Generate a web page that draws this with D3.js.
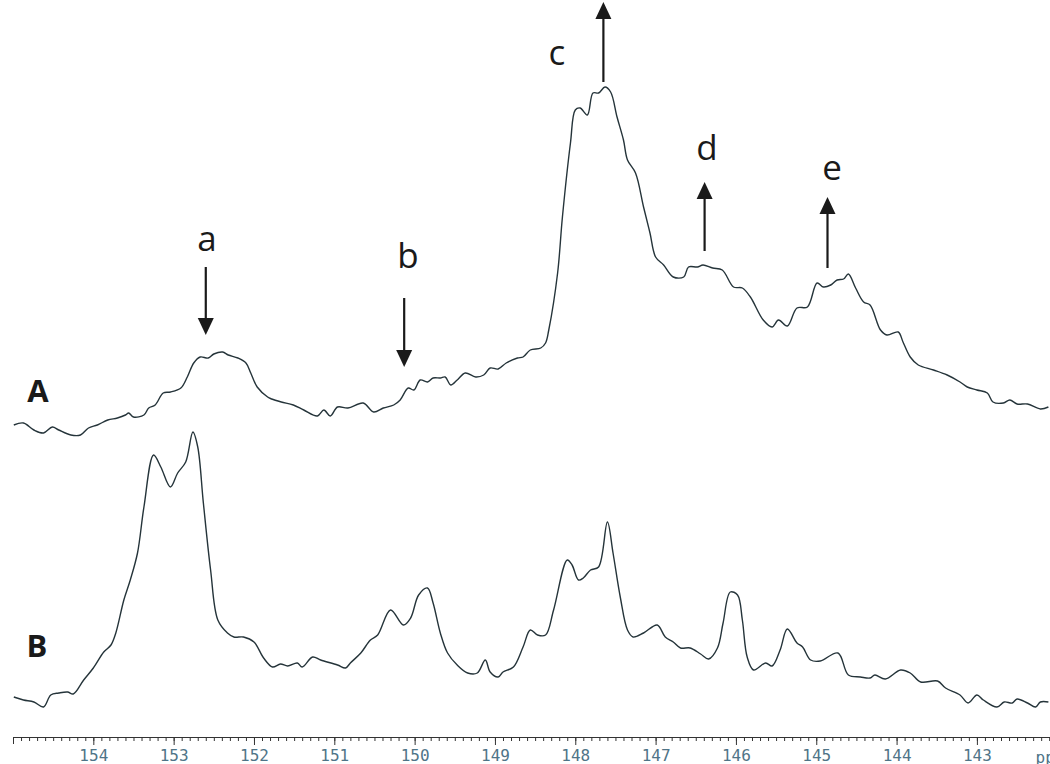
<!DOCTYPE html>
<html>
<head>
<meta charset="utf-8">
<script src="https://cdn.jsdelivr.net/npm/d3@7"></script>
<style>
  html, body { margin: 0; padding: 0; background: #fff; }
  svg { display: block; }
  .trace { fill: none; stroke: #25343a; stroke-width: 1.4; }
  .peak-label { font-family: "Open Sans", sans-serif; font-size: 35px; fill: #1a1a1a; }
  .trace-label { font-family: "Open Sans", sans-serif; font-size: 31px; font-weight: 700; fill: #1a1a1a; }
  .axis path, .axis line { stroke: #333; }
  .axis text { font-family: "DejaVu Sans Mono", monospace; font-size: 16px; fill: #4f7487; }
</style>
</head>
<body>
<svg id="chart" width="1050" height="764"></svg>
<script>
// chemical shift (ppm) and intensity (arb. units)
const shiftA = [154.99, 154.87, 154.74, 154.62, 154.51, 154.43, 154.28, 154.16, 154.06, 153.95,
  153.82, 153.70, 153.60, 153.56, 153.50, 153.37, 153.31, 153.23, 153.13, 153.04,
  152.91, 152.83, 152.75, 152.67, 152.57, 152.50, 152.39, 152.32, 152.20, 152.10,
  152.04, 151.96, 151.83, 151.78, 151.66, 151.51, 151.38, 151.21, 151.13, 151.05,
  150.96, 150.83, 150.64, 150.51, 150.39, 150.26, 150.18, 150.08, 150.01, 149.93,
  149.84, 149.77, 149.68, 149.62, 149.55, 149.47, 149.37, 149.24, 149.14, 149.06,
  148.96, 148.86, 148.72, 148.65, 148.56, 148.43, 148.37, 148.33, 148.22, 148.16,
  148.06, 148.00, 147.94, 147.85, 147.78, 147.71, 147.63, 147.56, 147.48, 147.40,
  147.35, 147.25, 147.15, 147.07, 147.00, 146.90, 146.78, 146.65, 146.59, 146.48,
  146.41, 146.29, 146.17, 146.03, 145.92, 145.82, 145.66, 145.55, 145.47, 145.36,
  145.24, 145.11, 144.99, 144.91, 144.82, 144.74, 144.66, 144.60, 144.51, 144.41,
  144.33, 144.20, 144.12, 143.98, 143.92, 143.83, 143.73, 143.54, 143.37, 143.21,
  143.12, 143.00, 142.87, 142.80, 142.67, 142.59, 142.50, 142.37, 142.21, 142.11];
const intensityA = [15, 17, 10, 7, 13, 10, 5, 5, 12, 15,
  20, 22, 25, 27, 23, 25, 32, 35, 47, 48,
  52, 63, 77, 83, 82, 86, 88, 85, 82, 77,
  67, 53, 43, 41, 38, 35, 30, 24, 30, 24,
  33, 32, 37, 28, 32, 35, 40, 52, 50, 60,
  58, 62, 62, 63, 55, 60, 67, 63, 65, 72,
  71, 77, 82, 83, 90, 92, 97, 110, 167, 223,
  297, 330, 332, 325, 347, 347, 353, 348, 323, 300,
  280, 267, 233, 207, 183, 175, 163, 163, 173, 173,
  175, 172, 170, 153, 152, 143, 120, 113, 120, 114,
  132, 133, 157, 153, 155, 160, 161, 166, 152, 138,
  135, 110, 105, 108, 98, 83, 75, 70, 65, 58,
  53, 50, 47, 38, 37, 40, 36, 36, 31, 33];

const shiftB = [154.99, 154.87, 154.74, 154.62, 154.53, 154.43, 154.32, 154.25, 154.12, 154.00,
  153.87, 153.78, 153.72, 153.62, 153.54, 153.45, 153.37, 153.25, 153.16, 153.04,
  152.95, 152.85, 152.76, 152.70, 152.63, 152.54, 152.45, 152.33, 152.25, 152.13,
  152.00, 151.88, 151.77, 151.67, 151.58, 151.46, 151.40, 151.27, 151.17, 150.96,
  150.86, 150.80, 150.67, 150.55, 150.46, 150.30, 150.14, 150.05, 149.95, 149.84,
  149.77, 149.68, 149.59, 149.47, 149.34, 149.22, 149.12, 149.06, 148.96, 148.90,
  148.77, 148.65, 148.56, 148.47, 148.37, 148.27, 148.10, 148.04, 147.96, 147.90,
  147.81, 147.71, 147.60, 147.53, 147.44, 147.35, 147.28, 147.15, 146.98, 146.88,
  146.78, 146.69, 146.57, 146.44, 146.34, 146.23, 146.16, 146.07, 145.98, 145.92,
  145.86, 145.78, 145.63, 145.55, 145.45, 145.36, 145.24, 145.17, 145.07, 144.95,
  144.73, 144.60, 144.45, 144.33, 144.27, 144.14, 143.95, 143.83, 143.70, 143.49,
  143.39, 143.21, 143.11, 143.00, 142.92, 142.75, 142.66, 142.56, 142.50, 142.37,
  142.27, 142.21, 142.11];
const intensityB = [13, 10, 8, 3, 15, 17, 18, 16, 30, 42,
  58, 65, 77, 110, 130, 157, 203, 255, 243, 223,
  237, 248, 278, 263, 207, 140, 90, 77, 73, 73,
  68, 52, 43, 46, 44, 47, 43, 53, 50, 45,
  42, 47, 57, 70, 75, 100, 85, 92, 115, 122,
  107, 77, 57, 45, 37, 37, 50, 38, 33, 38,
  43, 63, 80, 75, 75, 100, 150, 145, 130, 132,
  140, 143, 188, 157, 113, 80, 73, 77, 85, 73,
  68, 62, 62, 56, 51, 62, 87, 118, 115, 90,
  53, 40, 47, 44, 60, 81, 67, 63, 50, 49,
  57, 35, 33, 32, 35, 31, 40, 37, 28, 29,
  22, 15, 7, 15, 10, 3, 8, 7, 11, 7,
  3, 8, 8];

const majorTicks = [154, 153, 152, 151, 150, 149, 148, 147, 146, 145, 144, 143];
const peakNames = ["a", "b", "c", "d", "e"];
const peakShifts = [152.6, 150.13, 147.65, 146.39, 144.86];
const peakDirections = ["down", "down", "up", "up", "up"];
const traceNames = ["A", "B"];

const svg = d3.select("#chart");
const width = 1050;

const x = d3.scaleLinear().domain([155, 142.09]).range([13, width]);
const y = d3.scaleLinear().domain([0, 710]).range([710, 0]);
const offsetA = 270;
const offsetB = 0;

const line = d3.line()
  .x((d) => x(d[0]))
  .y((d) => y(d[1]))
  .curve(d3.curveCatmullRom.alpha(0.5));

svg.append("path")
  .attr("class", "trace")
  .attr("d", line(shiftA.map((s, i) => [s, intensityA[i] + offsetA])));

svg.append("path")
  .attr("class", "trace")
  .attr("d", line(shiftB.map((s, i) => [s, intensityB[i] + offsetB])));

// ppm axis: minor ticks every 0.1, labelled majors every 1
const axisY = 737;
const minorTicks = d3.range(1550, 1420, -1).map((v) => v / 10);

svg.append("g")
  .attr("class", "axis")
  .attr("transform", `translate(0,${axisY})`)
  .call(d3.axisBottom(x).tickValues(minorTicks).tickSize(4).tickSizeOuter(7).tickFormat(""));

const major = svg.append("g")
  .attr("class", "axis")
  .attr("transform", `translate(0,${axisY})`)
  .call(d3.axisBottom(x).tickValues(majorTicks).tickSize(8).tickSizeOuter(0).tickPadding(5).tickFormat(d3.format("d")));
major.select(".domain").remove();

// unit label runs off the right edge, as in the original screenshot
svg.append("text")
  .attr("x", x(142.27))
  .attr("y", axisY + 26)
  .attr("font-family", "DejaVu Sans Mono, monospace")
  .attr("font-size", 16)
  .attr("fill", "#4f7487")
  .text("ppm");

// arrows and peak letters
const arrowLayout = {
  a: { tail: 267, tip: 335, label: [207, 251] },
  b: { tail: 298, tip: 367, label: [408, 268] },
  c: { tail: 82, tip: 2, label: [557, 65] },
  d: { tail: 251, tip: 182, label: [707, 160] },
  e: { tail: 268, tip: 197, label: [832, 180] },
};

peakNames.forEach((name, i) => {
  const ax = x(peakShifts[i]);
  const lay = arrowLayout[name];
  const dir = peakDirections[i] === "down" ? 1 : -1;
  const headLen = 17;
  const headHalf = 8;
  svg.append("line")
    .attr("x1", ax).attr("y1", lay.tail)
    .attr("x2", ax).attr("y2", lay.tip - dir * headLen)
    .attr("stroke", "#1a1a1a")
    .attr("stroke-width", 2.2);
  svg.append("path")
    .attr("d", `M${ax},${lay.tip} L${ax - headHalf},${lay.tip - dir * headLen} L${ax + headHalf},${lay.tip - dir * headLen} Z`)
    .attr("fill", "#1a1a1a");
  svg.append("text")
    .attr("class", "peak-label")
    .attr("x", lay.label[0])
    .attr("y", lay.label[1])
    .attr("text-anchor", "middle")
    .text(name);
});

svg.selectAll(".trace-label")
  .data(traceNames)
  .join("text")
  .attr("class", "trace-label")
  .attr("x", (d, i) => (i === 0 ? 38 : 37))
  .attr("y", (d, i) => (i === 0 ? 402 : 657))
  .attr("text-anchor", "middle")
  .text((d) => d);
</script>
</body>
</html>
